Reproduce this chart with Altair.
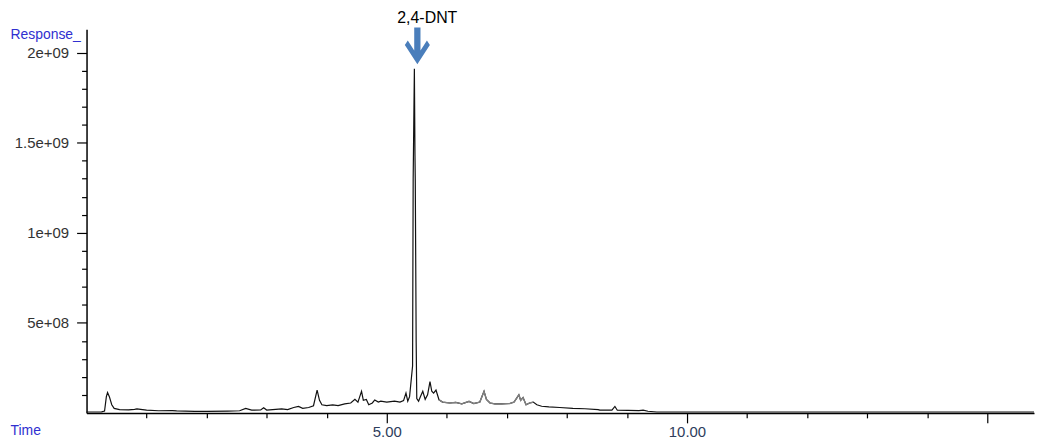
import altair as alt
import pandas as pd

# Chromatogram trace (time in min, response in counts)
time_min = [0.00, 0.25, 0.30, 0.33, 0.35, 0.38, 0.42, 0.46, 0.55, 0.70, 0.80, 0.84, 0.90,
            1.00, 1.20, 1.43, 1.50, 1.80, 2.00, 2.35, 2.55, 2.65, 2.75, 2.90, 2.95, 3.00,
            3.15, 3.25, 3.35, 3.45, 3.53, 3.60, 3.70, 3.78, 3.84, 3.88, 3.92, 4.00, 4.10,
            4.19, 4.30, 4.40, 4.47, 4.52, 4.56, 4.58, 4.61, 4.66, 4.70, 4.76, 4.80, 4.86,
            4.90, 5.00, 5.13, 5.22, 5.28, 5.32, 5.35, 5.38, 5.43, 5.44, 5.46, 5.47, 5.475,
            5.49, 5.50, 5.53, 5.56, 5.60, 5.64, 5.68, 5.72, 5.75, 5.78, 5.82, 5.87, 5.93,
            6.05, 6.15, 6.25, 6.37, 6.45, 6.55, 6.62, 6.66, 6.72, 6.80, 6.92, 7.05, 7.12,
            7.17, 7.20, 7.23, 7.27, 7.32, 7.38, 7.44, 7.50, 7.58, 7.70, 7.88, 8.10, 8.30,
            8.52, 8.55, 8.75, 8.80, 8.84, 9.20, 9.27, 9.35, 9.50, 15.78]
response = [5e6, 6e6, 1e7, 9e7, 1.13e8, 9e7, 4.5e7, 2.5e7, 1.8e7, 1.7e7, 2.0e7, 2.2e7, 2.0e7,
            1.5e7, 1.2e7, 1.3e7, 1.1e7, 8e6, 8e6, 1.0e7, 1.2e7, 2.5e7, 1.5e7, 1.6e7, 2.8e7, 1.6e7,
            2.0e7, 2.2e7, 1.8e7, 3.0e7, 3.6e7, 2.5e7, 3.0e7, 4.0e7, 1.27e8, 7.0e7, 4.5e7, 4.0e7, 4.5e7,
            4.0e7, 5.0e7, 5.5e7, 7.5e7, 6.0e7, 1.0e8, 1.2e8, 7.0e7, 7.5e7, 4.5e7, 5.5e7, 7.2e7, 6.0e7,
            6.5e7, 6.0e7, 6.5e7, 6.0e7, 6.8e7, 1.1e8, 6.5e7, 9.0e7, 2.6e8, 1.30e9, 1.91e9, 1.43e9, 1.29e9,
            3.9e8, 8.0e7, 6.5e7, 9.0e7, 1.2e8, 7.5e7, 1.0e8, 1.73e8, 1.2e8, 1.1e8, 1.27e8, 7.3e7, 6.0e7,
            5.5e7, 5.8e7, 5.0e7, 6.4e7, 5.2e7, 6.0e7, 1.2e8, 7.5e7, 5.5e7, 5.0e7, 5.0e7, 5.2e7, 6.0e7,
            8.5e7, 1.0e8, 7.0e7, 8.5e7, 4.5e7, 5.5e7, 6.0e7, 4.5e7, 3.7e7, 3.3e7, 3.0e7, 2.5e7, 2.3e7,
            1.8e7, 1.5e7, 1.5e7, 3.6e7, 1.5e7, 1.3e7, 1.5e7, 9e6, 5e6, 5e6]

# Section of the trace drawn in grey
grey_start, grey_end = 5.87, 7.47

# Axis ticks and labels
x_tick_values = [1, 2, 3, 4, 5, 6, 7, 8, 9, 10, 11, 12, 13, 14, 15]
x_label_values = [5, 10]
y_tick_values = [i * 100000000 for i in range(1, 21)]
y_label_values = [500000000, 1000000000, 1500000000, 2000000000]
y_label_texts = ["5e+08", "1e+09", "1.5e+09", "2e+09"]

peak_label = "2,4-DNT"

df = pd.DataFrame({"time": time_min, "response": response})
grey_df = df[(df["time"] >= grey_start) & (df["time"] <= grey_end)]
peak_df = df[df["response"] == df["response"].max()].assign(label=peak_label)

y_label_expr = " : ".join(
    f"abs(datum.value - {v}) < 1 ? '{t}'" for v, t in zip(y_label_values, y_label_texts)
) + " : ''"
x_label_expr = " || ".join(f"abs(datum.value - {v}) < 0.001" for v in x_label_values)
x_label_expr = f"({x_label_expr}) ? format(datum.value, '.2f') : ''"

title_color = "#3030d0"

x_axis = alt.Axis(
    values=x_tick_values,
    labelExpr=x_label_expr,
    labelOverlap=False,
    tickSize={"condition": {"test": "datum.value % 5 === 0", "value": 10}, "value": 5},
    tickColor="black",
    tickWidth=1.2,
    domainColor="black",
    domainWidth=1.5,
    labelFont="Liberation Sans",
    labelFontSize=15,
    labelColor="#2e3d5c",
    labelPadding=2,
    grid=False,
    title="Time",
    titleX=-77,
    titleY=18,
    titleAlign="left",
    titleBaseline="middle",
    titleColor=title_color,
    titleFont="Liberation Sans",
    titleFontSize=14,
    titleFontWeight="normal",
)
y_axis = alt.Axis(
    values=y_tick_values,
    labelExpr=y_label_expr,
    labelOverlap=False,
    tickSize={"condition": {"test": "datum.value % 500000000 === 0", "value": 10}, "value": 5},
    tickColor="black",
    tickWidth=1.2,
    domainColor="black",
    domainWidth=1.5,
    labelFont="Liberation Sans",
    labelFontSize=15,
    labelColor="#333333",
    labelPadding=8,
    grid=False,
    title="Response_",
    titleAngle=0,
    titleX=-77,
    titleY=5,
    titleAlign="left",
    titleBaseline="middle",
    titleColor=title_color,
    titleFont="Liberation Sans",
    titleFontSize=14,
    titleFontWeight="normal",
)

x_enc = alt.X("time:Q", scale=alt.Scale(domain=[0, 15.78], nice=False, zero=False), axis=x_axis)
y_enc = alt.Y("response:Q", scale=alt.Scale(domain=[0, 2130000000], nice=False), axis=y_axis)

line = alt.Chart(df).mark_line(color="#111111", strokeWidth=1.2).encode(x=x_enc, y=y_enc)
grey_line = alt.Chart(grey_df).mark_line(color="#808080", strokeWidth=1.4).encode(x=x_enc, y=y_enc)

arrow_path = ("M -0.17 -1 L 0.17 -1 L 0.17 0.25 L 0.52 -0.30 L 0.68 -0.05 L 0 1 "
              "L -0.68 -0.05 L -0.52 -0.30 L -0.17 0.25 Z")
arrow = alt.Chart(peak_df).mark_point(
    shape=arrow_path, size=1369, filled=True, fill="#4a7ebb", strokeWidth=0, opacity=1,
    xOffset=3, yOffset=-23,
).encode(x=x_enc, y=y_enc)

label = alt.Chart(peak_df).mark_text(
    font="Liberation Sans", fontSize=16, color="black", dx=13, dy=-46, baseline="alphabetic", align="center"
).encode(x=x_enc, y=y_enc, text="label:N")

chart = (
    alt.layer(line, grey_line, arrow, label)
    .properties(
        width=953,
        height=386,
        autosize=alt.AutoSizeParams(type="none"),
        padding={"left": 79, "top": 20, "right": 2, "bottom": 26},
    )
    .configure_view(strokeWidth=0)
    .configure_axis(labelOverlap=False)
)

chart.save("out.html", embed_options={"renderer": "svg", "actions": False})
